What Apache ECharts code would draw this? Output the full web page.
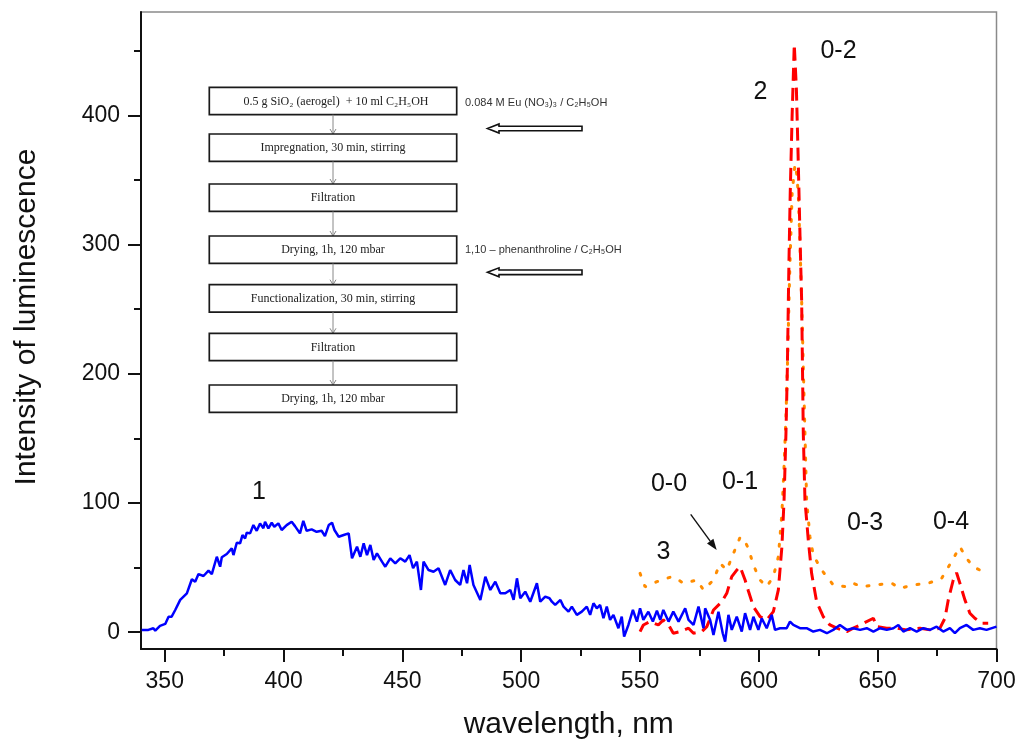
<!DOCTYPE html>
<html>
<head>
<meta charset="utf-8">
<script src="https://cdn.jsdelivr.net/npm/echarts@6/dist/echarts.min.js"></script>
<style>
html,body{margin:0;padding:0;background:#fff;}
#chart{width:1019px;height:742px;}
</style>
</head>
<body>
<div id="chart"></div>
<script>
// ---- data ----
const wavelengthTicks = [350, 400, 450, 500, 550, 600, 650, 700];
const wavelengthMinorTicks = [375, 425, 475, 525, 575, 625, 675];
const intensityTicks = [0, 100, 200, 300, 400];
const intensityMinorTicks = [50, 150, 250, 350, 450];

// curve 1 (blue, solid)
const blueX = [340.3,343.1,345.2,346,348,350.2,351.6,352.9,354.4,356.5,359.3,361.4,362.8,364.2,366.3,368.4,369.8,371.9,373.3,374,376.1,378.2,378.9,380.3,381.7,382.7,383.8,384.5,385.9,387.3,388.7,390.1,391.5,392.2,393.6,395,396.1,397.8,399.2,401.3,403.4,404.8,406.9,408.3,409.7,411.8,413.9,416,417.4,419,420.4,421.4,423.2,425.3,427.4,428.8,430.9,432.3,433.7,435.1,436.5,437.9,439.3,441.4,442.8,444.9,447,449.1,451.2,453,454.5,456.1,457.8,458.9,461,463.1,465.2,468,470.1,472.2,474.3,475.7,477.2,478.3,479.9,482.8,484.9,487,489.1,491.2,493.3,495.4,496.8,498.2,499.6,501.7,503.8,506.6,508,510.1,511.9,512.9,514.3,516.5,517.8,519.9,521.3,523.4,525.5,527.6,529,530.4,531.8,533.2,534.6,536,537.4,538.8,540.9,542.3,543.3,545.1,547,548.7,550,551.4,553.5,555.4,557.1,558.5,559.8,562,564,566.2,569,570.4,572.5,574.6,576.7,577.4,579.5,580.9,583,584.8,585.8,587.2,588.6,590.7,592.8,594.2,596.3,597.7,599.8,601.2,603.3,605.4,606.8,608.9,611.7,613.1,614.5,617.3,620.1,622.9,625.7,628.6,631.3,634.1,637,639.7,642.6,645.4,648.2,651,653.8,656.6,658.7,660.8,663.6,666.4,669.2,672,674.8,677.6,680.4,682.5,684.6,687.4,690.2,693,695.8,700];
const blueY = [1.8,1.8,3.1,1.2,4.9,6.4,12,12,17.2,25,30.1,41,39,45,43.5,47.6,45,58.4,50.7,58,60.5,64.9,59.7,69.2,68.8,75.2,72.6,77,76.5,82.9,78.5,84.2,80.4,85.5,80.4,84.7,81.6,84.2,79.1,82.9,85.5,82.1,76.5,86.2,78.5,79.6,77.7,78.5,74.4,82.9,84.7,79.1,73.9,75.2,76.5,57.2,66.2,58.4,68.8,59.7,67.5,55.9,61,54.6,50.7,57.2,53.3,57.2,54.6,59.7,49.5,54.6,32.7,54.6,48.1,46.8,49.5,36.6,48.1,40.4,36.6,48.1,37.9,52,36.6,25,43,32.7,39.1,30.1,30.1,32.7,25,41.7,26.3,31.4,23.6,37.9,23.6,27.5,26.3,23.6,21.1,25,19.8,15.9,19.8,13.4,15.9,19.8,13.4,22.4,18.5,21.1,10.8,19.8,9.5,13.4,3.1,12,-3.4,5.6,17.2,8.2,18.5,9.5,15.9,8.2,16.7,9.5,17.2,8.2,15.9,8.2,18.5,9.5,5.6,19.8,3.1,18.5,9.5,-2.1,15.9,-0.8,-7.3,13.4,1.8,12,0.5,14.7,1.8,12,1.8,10.8,3.1,13.4,1.8,3.1,3.1,8.2,5.6,3.1,3.1,0.5,1.8,-0.8,1.8,5.6,1.8,3.1,1.8,3.1,0.5,3.1,1.8,3.1,5.6,0.5,3.1,0.5,3.1,1.8,4.3,0.5,3.1,-0.8,3.1,5.6,1.8,3.1,1.8,4.3];

// curve 2 (red, dashed)
const redX = [550,551.4,554.2,557.7,559.8,562,564,566.9,570.4,572.5,576,578.1,580.9,584.4,586.5,588.6,590.7,592.1,594.2,595.6,597.7,600.5,603.3,606.1,608.2,609.7,610.6,611.4,612,612.6,613.2,614,614.9,615.8,616.5,617.4,618,618.7,619.4,620.8,622.2,624.3,627.1,629.9,632.8,637,639.7,642.6,648.2,649.6,653.8,658,662.2,667.8,672,676.2,678.3,679.7,681.8,683.2,684.6,686.7,688.8,690.9,693.7,696.5];
const redY = [0.5,5.6,8.2,5.6,9.5,5.6,-0.8,0.5,3.1,-0.8,0.5,4.3,17.2,23.6,30.1,43,48.1,50.7,40.4,31.9,19.8,12,9.5,15.9,32.7,66.2,102,153.8,205,280,340,400,455,420,370,300,257,153.8,102,71.3,45.6,23.6,12,5.6,3.1,0.5,3.1,5.6,10.8,4.3,3.1,3.1,1.8,3.1,1.8,3.1,10.8,25,40.4,46,37.9,25,14.7,10.8,7,7];

// curve 3 (orange, dotted)
const orangeX = [550,552.1,554.2,557.1,559.2,563.4,566.2,568.3,573.9,576.7,580.9,583.7,586.5,589.3,592.1,593.5,595.6,597.7,600.5,603.3,606.1,608.2,609.7,610.6,611.4,612,613,614,615.2,615.9,616.6,617.3,618,618.7,619.4,620.1,621.5,622.9,626.4,631.3,637,639.7,643.3,648.9,655.9,659.4,665,671.3,676.9,681.1,684.6,687.4,690.2,694.4];
const orangeY = [45.6,35.2,36.6,39.1,40.4,43,40.4,37.9,40.4,32.7,40.4,53.3,48.1,61,73.4,72.6,64.9,52,40.4,35.2,43,58.4,92,128,166.6,205,280,340,362,355,339,300,257,205,153.8,102,73.9,59.7,48.1,36.6,35.2,37.9,35.2,36.6,37.9,34,36.6,37.9,41.7,54.6,66.2,57.2,50.7,46.8];

const flowSteps = [
  '0.5 g SiO\u2082 (aerogel)  + 10 ml C\u2082H\u2085OH',
  'Impregnation, 30 min, stirring',
  'Filtration',
  'Drying, 1h, 120 mbar',
  'Functionalization, 30 min, stirring',
  'Filtration',
  'Drying, 1h, 120 mbar'
];
const reagents = [
  '0.084 M Eu (NO\u2083)\u2083 / C\u2082H\u2085OH',
  '1,10 \u2013 phenanthroline / C\u2082H\u2085OH'
];
const curveLabels = ['1', '2', '3'];
const bandLabels = ['0-0', '0-1', '0-2', '0-3', '0-4'];
const xTitle = 'wavelength, nm';
const yTitle = 'Intensity of luminescence';

// ---- build ----
const zip = (xs, ys) => xs.map((x, i) => [x, ys[i]]);
const chart = echarts.init(document.getElementById('chart'), null, {renderer: 'canvas'});

const sans = 'Liberation Sans, Arial, sans-serif';
const serif = 'Liberation Serif, Times New Roman, serif';

// flowchart geometry (layout only)
const boxTops = [87.3, 134, 184, 236, 284.7, 333.3, 385];
const boxH = 27.4, boxL = 209.3, boxW = 247.4, boxCx = 333;
const graphics = [];
flowSteps.forEach((t, i) => {
  graphics.push({type: 'rect', shape: {x: boxL, y: boxTops[i], width: boxW, height: boxH},
    style: {fill: '#fff', stroke: '#1a1a1a', lineWidth: 1.7}, z: 10});
  graphics.push({type: 'text', x: (i === 0 ? boxCx + 3 : boxCx), y: boxTops[i] + boxH / 2 + 0.5,
    style: {text: t, font: '12px ' + serif, fill: '#222', align: 'center', verticalAlign: 'middle'}, z: 11});
  if (i < flowSteps.length - 1) {
    const y0 = boxTops[i] + boxH, y1 = boxTops[i + 1];
    graphics.push({type: 'line', shape: {x1: boxCx, y1: y0, x2: boxCx, y2: y1},
      style: {stroke: '#888', lineWidth: 1}, z: 10});
    graphics.push({type: 'polyline', shape: {points: [[boxCx - 3, y1 - 5], [boxCx, y1], [boxCx + 3, y1 - 5]]},
      style: {stroke: '#888', lineWidth: 1, fill: null}, z: 10});
  }
});
const reagentY = [103, 249.7];
const arrowY = [128.5, 272.3];
reagents.forEach((t, i) => {
  graphics.push({type: 'text', x: 465, y: reagentY[i],
    style: {text: t, font: '11px ' + sans, fill: '#333', align: 'left', verticalAlign: 'middle'}, z: 11});
  const c = arrowY[i];
  graphics.push({type: 'polygon', shape: {points: [[487.5, c], [499, c - 4.5], [499, c - 2.3], [582, c - 2.3], [582, c + 2.3], [499, c + 2.3], [499, c + 4.5]]},
    style: {fill: '#fff', stroke: '#111', lineWidth: 1.6}, z: 11});
});
// curve number labels and band labels
const curveLabelPos = [[259, 492], [760.5, 92], [663.5, 552]];
curveLabels.forEach((t, i) => {
  graphics.push({type: 'text', x: curveLabelPos[i][0], y: curveLabelPos[i][1],
    style: {text: t, font: '25px ' + sans, fill: '#111', align: 'center', verticalAlign: 'middle'}, z: 12});
});
const bandLabelPos = [[669, 484], [740, 482], [838.5, 51.5], [865, 523], [951, 522]];
bandLabels.forEach((t, i) => {
  graphics.push({type: 'text', x: bandLabelPos[i][0], y: bandLabelPos[i][1],
    style: {text: t, font: '25px ' + sans, fill: '#111', align: 'center', verticalAlign: 'middle'}, z: 12});
});
// arrow pointing to 0-0 band
graphics.push({type: 'line', shape: {x1: 690.7, y1: 514.3, x2: 710.2, y2: 541.1}, style: {stroke: '#111', lineWidth: 1.4}, z: 12});
graphics.push({type: 'polygon', shape: {points: [[716.7, 550], [707, 543.4], [713.4, 538.8]]}, style: {fill: '#111'}, z: 12});
// y-axis title
graphics.push({type: 'text', x: 27, y: 317, rotation: Math.PI / 2,
  style: {text: yTitle, font: '30px ' + sans, fill: '#111', align: 'center', verticalAlign: 'middle'}, z: 12});

const option = {
  animation: false,
  backgroundColor: '#fff',
  grid: {left: 141, right: 22.5, top: 12, bottom: 93, show: true, borderColor: '#8a8a8a', borderWidth: 1.5,
    containLabel: false, outerBoundsMode: 'none'},
  xAxis: [
    {
      type: 'value', min: 340, max: 700, position: 'bottom',
      name: xTitle, nameLocation: 'middle', nameGap: 61,
      nameTextStyle: {fontSize: 30, fontFamily: sans, color: '#111'},
      axisLine: {show: true, onZero: false, lineStyle: {color: '#111', width: 2}},
      axisTick: {show: true, inside: false, length: 13, customValues: wavelengthTicks, lineStyle: {color: '#111', width: 2}},
      axisLabel: {show: true, customValues: wavelengthTicks, margin: 21, fontSize: 23, fontFamily: sans, color: '#111'},
      splitLine: {show: false}
    },
    {
      type: 'value', min: 340, max: 700, position: 'bottom',
      axisLine: {show: false, onZero: false},
      axisTick: {show: true, inside: false, length: 7, customValues: wavelengthMinorTicks, lineStyle: {color: '#111', width: 2}},
      axisLabel: {show: false},
      splitLine: {show: false}
    }
  ],
  yAxis: [
    {
      type: 'value', min: -13, max: 480, position: 'left',
      axisLine: {show: true, onZero: false, lineStyle: {color: '#111', width: 2}},
      axisTick: {show: true, inside: false, length: 13, customValues: intensityTicks, lineStyle: {color: '#111', width: 2}},
      axisLabel: {show: true, customValues: intensityTicks, margin: 21, fontSize: 23, fontFamily: sans, color: '#111'},
      splitLine: {show: false}
    },
    {
      type: 'value', min: -13, max: 480, position: 'left',
      axisLine: {show: false, onZero: false},
      axisTick: {show: true, inside: false, length: 7, customValues: intensityMinorTicks, lineStyle: {color: '#111', width: 2}},
      axisLabel: {show: false},
      splitLine: {show: false}
    }
  ],
  series: [
    {
      name: '3', type: 'line', xAxisIndex: 0, yAxisIndex: 0, data: zip(orangeX, orangeY),
      showSymbol: false, symbol: 'none', smooth: false,
      lineStyle: {color: '#ff8c00', width: 3, type: [2, 11], cap: 'round'}, z: 3
    },
    {
      name: '2', type: 'line', xAxisIndex: 0, yAxisIndex: 0, data: zip(redX, redY),
      showSymbol: false, symbol: 'none', smooth: false,
      lineStyle: {color: '#ff0000', width: 3, type: [13, 7]}, z: 4
    },
    {
      name: '1', type: 'line', xAxisIndex: 0, yAxisIndex: 0, data: zip(blueX, blueY),
      showSymbol: false, symbol: 'none', smooth: false,
      lineStyle: {color: '#0000ff', width: 2.5}, z: 5
    }
  ],
  graphic: graphics
};
chart.setOption(option);
</script>
</body>
</html>
